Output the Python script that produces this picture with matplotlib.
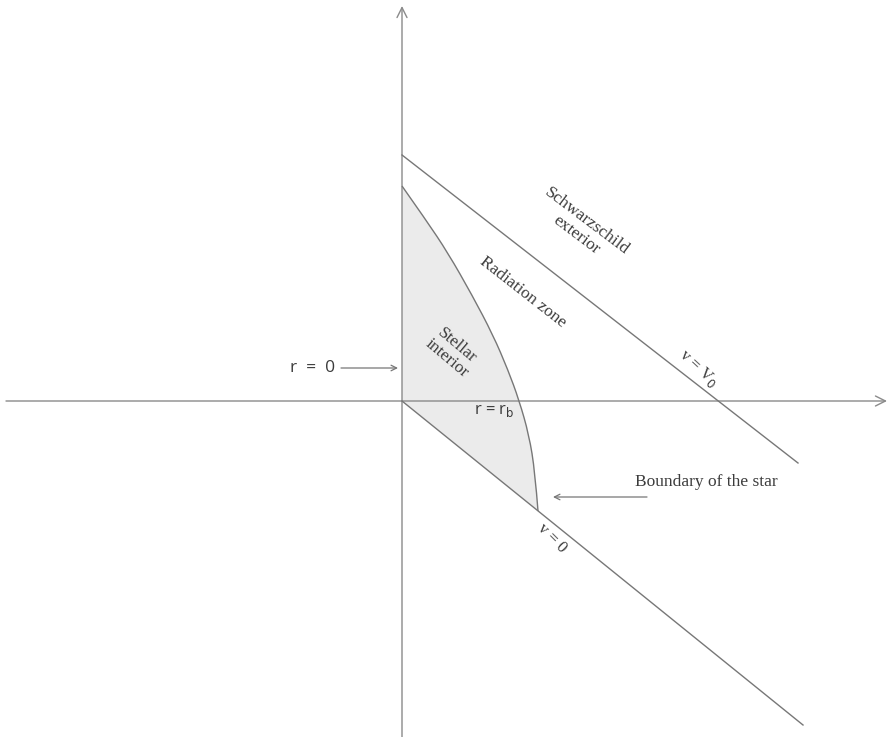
import numpy as np
import matplotlib.pyplot as plt
from matplotlib.path import Path
from matplotlib.patches import PathPatch

# diagram coordinates (pixel space, y downwards)
origin = (402, 401)
h_axis_x = [6, 887]
v_axis_y = [737, 6]
line_v0_start = (402, 401)
line_v0_end = (803, 725)
line_V0_start = (402, 155)
line_V0_end = (798, 463)

# boundary of the star r = r_b
boundary_x = [402, 426, 448, 472, 493, 508, 519, 529, 535, 538]
boundary_y = [186, 220, 253, 295, 335, 370, 400, 435, 472, 511]

line_col = '#777777'
axis_col = '#8a8a8a'
text_col = '#3c3c3c'
serif = 'Liberation Serif'
sans = 'Open Sans'


def smooth_path(xs, ys):
    """quadratic spline through the read points, drawn by Path"""
    pts = list(zip(xs, ys))
    verts = [pts[0]]
    codes = [Path.MOVETO]
    for i in range(1, len(pts) - 1):
        if i < len(pts) - 2:
            end = ((pts[i][0] + pts[i + 1][0]) / 2, (pts[i][1] + pts[i + 1][1]) / 2)
        else:
            end = pts[-1]
        verts += [pts[i], end]
        codes += [Path.CURVE3, Path.CURVE3]
    return verts, codes


fig = plt.figure(figsize=(8.9, 7.37), dpi=100)
ax = fig.add_axes([0, 0, 1, 1])
ax.set_xlim(0, 890)
ax.set_ylim(737, 0)
ax.axis('off')

verts, codes = smooth_path(boundary_x, boundary_y)

# shaded stellar interior: boundary curve, down the v = 0 line, up r = 0
fill_verts = verts + [origin, verts[0]]
fill_codes = codes + [Path.LINETO, Path.CLOSEPOLY]
ax.add_patch(PathPatch(Path(fill_verts, fill_codes), facecolor='#ebebeb',
                       edgecolor='none', zorder=1))

# axes with open arrow heads
ax.annotate('', xy=(h_axis_x[1], origin[1]), xytext=(h_axis_x[0], origin[1]),
            arrowprops=dict(arrowstyle='->', color=axis_col, lw=1.0,
                            mutation_scale=18, shrinkA=0, shrinkB=0), zorder=2)
ax.annotate('', xy=(origin[0], v_axis_y[1]), xytext=(origin[0], v_axis_y[0]),
            arrowprops=dict(arrowstyle='->', color=axis_col, lw=1.0,
                            mutation_scale=18, shrinkA=0, shrinkB=0), zorder=2)

# null lines v = 0 and v = V0
ax.plot([line_v0_start[0], line_v0_end[0]], [line_v0_start[1], line_v0_end[1]],
        color=line_col, lw=1.0, zorder=3)
ax.plot([line_V0_start[0], line_V0_end[0]], [line_V0_start[1], line_V0_end[1]],
        color=line_col, lw=1.0, zorder=3)

# boundary curve
ax.add_patch(PathPatch(Path(verts, codes), facecolor='none', edgecolor=line_col,
                       lw=1.0, zorder=3))

# labels
kw = dict(color=text_col, ha='center', va='center', rotation_mode='anchor',
          multialignment='center', zorder=4)
ax.text(582, 228, 'Schwarzschild\nexterior', family=serif, fontsize=12.5,
        rotation=-37, linespacing=1.1, **kw)
ax.text(523, 292, 'Radiation zone', family=serif, fontsize=12.5, rotation=-38, **kw)
ax.text(452, 352, 'Stellar\ninterior', family=serif, fontsize=12.5,
        rotation=-40, linespacing=1.0, **kw)
ax.text(698, 368, 'v = V$_0$', family=serif, fontsize=12, rotation=-43, **kw)
ax.text(552, 538, 'v = 0', family=serif, fontsize=12, rotation=-45, **kw)
ax.text(706, 482, 'Boundary of the star', family=serif, fontsize=12.5, **kw)
ax.text(313, 368, 'r  =  0', family=sans, fontsize=12.5, **kw)
ax.text(494, 411, 'r = r$_\\mathrm{b}$', family=sans, fontsize=12, **kw)

# pointer arrows
ax.annotate('', xy=(398, 368), xytext=(341, 368),
            arrowprops=dict(arrowstyle='->', color=line_col, lw=0.9,
                            mutation_scale=10, shrinkA=0, shrinkB=0), zorder=4)
ax.annotate('', xy=(553, 497), xytext=(647, 497),
            arrowprops=dict(arrowstyle='->', color=line_col, lw=0.9,
                            mutation_scale=10, shrinkA=0, shrinkB=0), zorder=4)

fig.savefig('out.png', dpi=100)
